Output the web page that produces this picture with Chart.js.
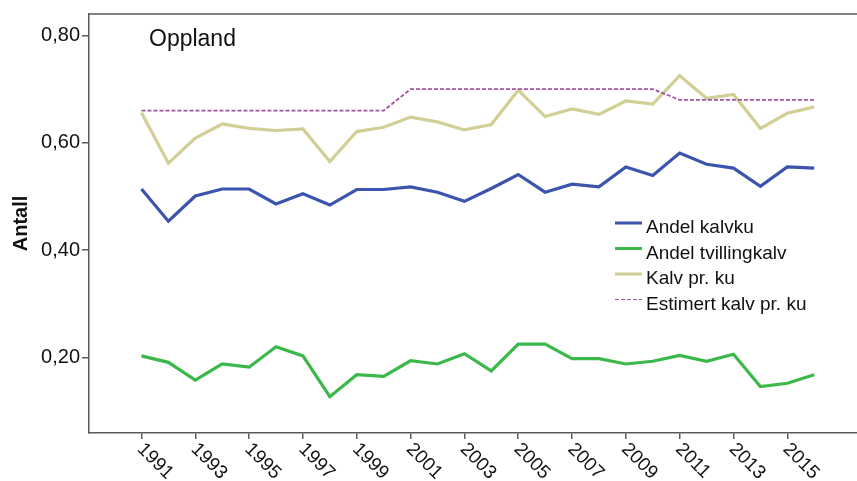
<!DOCTYPE html>
<html>
<head>
<meta charset="utf-8">
<script src="https://cdn.jsdelivr.net/npm/chart.js@4.4.1/dist/chart.umd.min.js"></script>
<style>
  html, body { margin: 0; padding: 0; background: #fff; }
  #wrap { width: 857px; height: 481px; position: relative; }
</style>
</head>
<body>
<div id="wrap"><canvas id="chart" width="857" height="481"></canvas></div>
<script>
// Kalvingsdata for Oppland, 1991–2016
const years = [1991, 1992, 1993, 1994, 1995, 1996, 1997, 1998, 1999, 2000, 2001, 2002, 2003,
               2004, 2005, 2006, 2007, 2008, 2009, 2010, 2011, 2012, 2013, 2014, 2015, 2016];
const andelKalvku = [0.514, 0.454, 0.501, 0.514, 0.514, 0.486, 0.505, 0.484, 0.513, 0.513, 0.518, 0.508, 0.491,
                     0.515, 0.541, 0.508, 0.523, 0.518, 0.555, 0.539, 0.581, 0.560, 0.553, 0.519, 0.555, 0.553];
const andelTvilling = [0.203, 0.191, 0.158, 0.188, 0.182, 0.220, 0.203, 0.127, 0.168, 0.165, 0.194, 0.188, 0.207,
                       0.175, 0.225, 0.225, 0.198, 0.198, 0.188, 0.193, 0.204, 0.193, 0.206, 0.146, 0.152, 0.168];
const kalvPrKu = [0.656, 0.562, 0.609, 0.635, 0.627, 0.623, 0.626, 0.565, 0.621, 0.629, 0.648, 0.639, 0.624,
                  0.634, 0.698, 0.649, 0.663, 0.653, 0.678, 0.672, 0.725, 0.683, 0.690, 0.627, 0.655, 0.667];
const estimertKalv = [0.66, 0.66, 0.66, 0.66, 0.66, 0.66, 0.66, 0.66, 0.66, 0.66, 0.70, 0.70, 0.70,
                      0.70, 0.70, 0.70, 0.70, 0.70, 0.70, 0.70, 0.68, 0.68, 0.68, 0.68, 0.68, 0.68];
const xTicks = [1991, 1993, 1995, 1997, 1999, 2001, 2003, 2005, 2007, 2009, 2011, 2013, 2015];
const yTicks = [0.2, 0.4, 0.6, 0.8];

const FONT = '"Liberation Sans", Arial, sans-serif';
const AXIS = '#5a5a5a';

const pts = vals => vals.map((v, i) => ({ x: years[i], y: v }));

// rammen, aksetittel, årstall på skrå, panelnavn og legende
const extras = {
  id: 'extras',
  afterDraw(chart) {
    const { ctx, chartArea: a, scales } = chart;
    ctx.save();
    ctx.strokeStyle = AXIS;
    ctx.lineWidth = 1.5;
    ctx.beginPath();
    ctx.moveTo(a.left, a.top);
    ctx.lineTo(chart.width, a.top);
    ctx.stroke();

    // årstall, rotert 45° med klokka
    ctx.fillStyle = '#111';
    ctx.font = `19px ${FONT}`;
    ctx.textAlign = 'left';
    ctx.textBaseline = 'alphabetic';
    xTicks.forEach(yr => {
      const px = scales.x.getPixelForValue(yr);
      ctx.save();
      ctx.translate(px - 5, a.bottom + 17);
      ctx.rotate(Math.PI / 4);
      ctx.fillText(String(yr), 0, 0);
      ctx.restore();
    });

    // y-aksetittel
    ctx.save();
    ctx.translate(21, (a.top + a.bottom) / 2);
    ctx.rotate(-Math.PI / 2);
    ctx.font = `bold 20px ${FONT}`;
    ctx.textAlign = 'center';
    ctx.textBaseline = 'middle';
    ctx.fillText('Antall', 0, 0);
    ctx.restore();

    ctx.font = `23px ${FONT}`;
    ctx.textBaseline = 'alphabetic';
    ctx.fillText('Oppland', 149, 46);

    // legende
    ctx.font = `19px ${FONT}`;
    chart.data.datasets.forEach((ds, i) => {
      const y = 223 + i * 25.5;
      ctx.save();
      ctx.strokeStyle = ds.borderColor;
      ctx.lineWidth = ds.legendWidth;
      ctx.setLineDash(ds.borderDash || []);
      ctx.beginPath();
      ctx.moveTo(615, y);
      ctx.lineTo(642, y);
      ctx.stroke();
      ctx.restore();
      ctx.fillStyle = '#111';
      ctx.fillText(ds.label, 646, y + 10);
    });
    ctx.restore();
  }
};

new Chart(document.getElementById('chart'), {
  type: 'line',
  data: {
    datasets: [
      { label: 'Andel kalvku', data: pts(andelKalvku), borderColor: '#3b54ae', borderWidth: 3.2, legendWidth: 3, order: 1 },
      { label: 'Andel tvillingkalv', data: pts(andelTvilling), borderColor: '#3cb84b', borderWidth: 3.2, legendWidth: 3, order: 1 },
      { label: 'Kalv pr. ku', data: pts(kalvPrKu), borderColor: '#d2cf96', borderWidth: 3.2, legendWidth: 3, order: 1 },
      { label: 'Estimert kalv pr. ku', data: pts(estimertKalv), borderColor: '#a2529f', borderWidth: 1.8, legendWidth: 1.2, borderDash: [4, 2], order: 0 }
    ]
  },
  options: {
    responsive: false,
    animation: false,
    devicePixelRatio: 1,
    layout: { padding: { top: 11, right: 0, left: 0, bottom: 0 } },
    elements: { point: { radius: 0 }, line: { tension: 0, borderCapStyle: 'butt' } },
    plugins: { legend: { display: false }, tooltip: { enabled: false } },
    scales: {
      x: {
        type: 'linear',
        min: 1989.05,
        max: 2017.59,
        afterBuildTicks: s => { s.ticks = xTicks.map(v => ({ value: v })); },
        afterFit: s => { s.height = 48; },
        ticks: { display: false },
        grid: { drawOnChartArea: false, drawTicks: true, tickLength: 6, color: AXIS, lineWidth: 1.5 },
        border: { display: true, color: AXIS, width: 1.5 }
      },
      y: {
        min: 0.0594,
        max: 0.84,
        afterBuildTicks: s => { s.ticks = yTicks.map(v => ({ value: v })); },
        afterFit: s => { s.width = 89; },
        ticks: {
          color: '#111',
          padding: 2,
          font: { family: FONT, size: 20 },
          callback: v => v.toFixed(2).replace('.', ',')
        },
        grid: { drawOnChartArea: false, drawTicks: true, tickLength: 7, color: AXIS, lineWidth: 1.5 },
        border: { display: true, color: AXIS, width: 1.5 }
      }
    }
  },
  plugins: [extras]
});
</script>
</body>
</html>
